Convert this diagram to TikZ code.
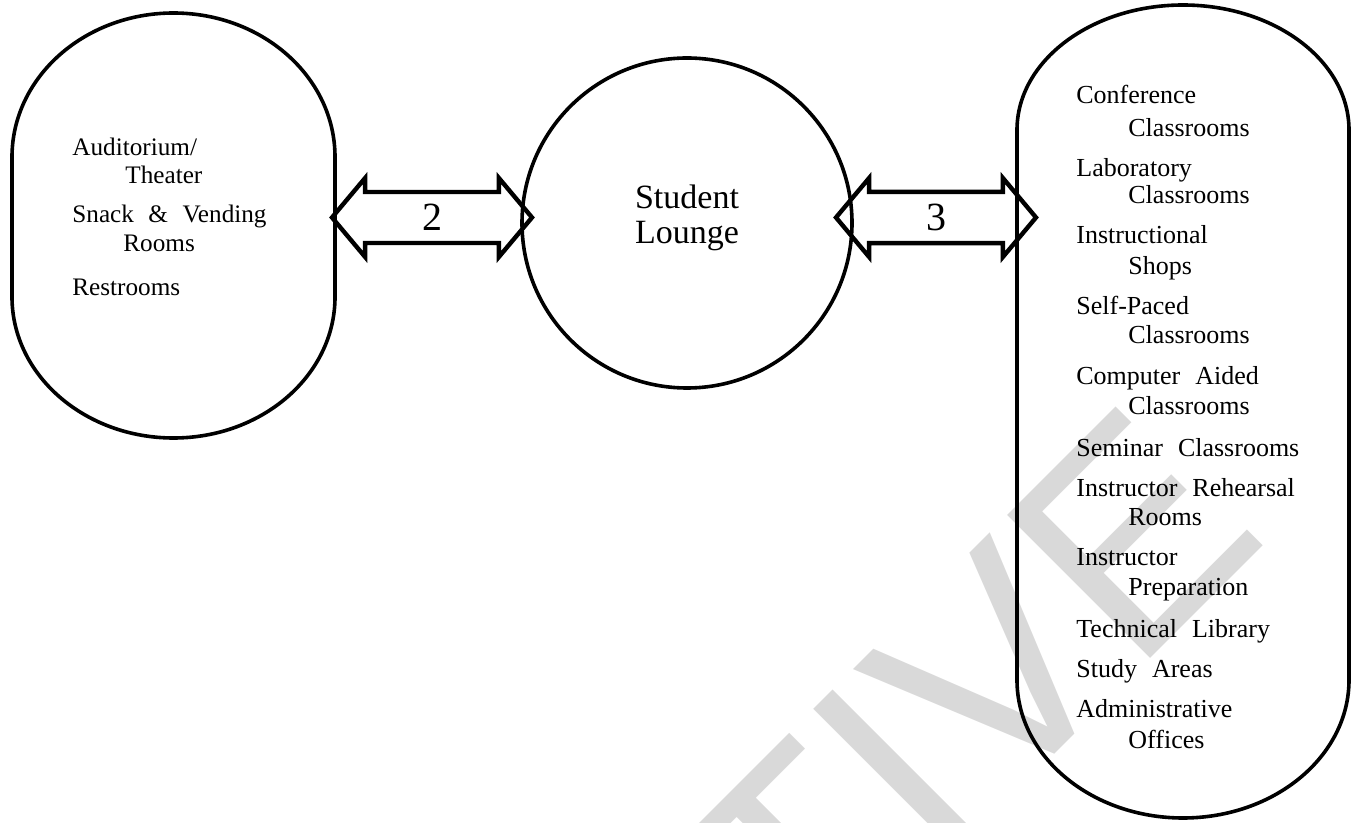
\documentclass[tikz,border=0pt]{standalone}
\usepackage{fontspec}
\setmainfont{Liberation Serif}[WordSpace=2.3]
\newfontfamily\stampfont{Liberation Sans}
\usetikzlibrary{shapes.arrows}

\begin{document}
\begin{tikzpicture}[x=0.5pt,y=0.5pt,
    wall/.style={line width=1.8pt},
    link/.style={draw,line width=2.2pt,shape=double arrow,
      double arrow tip angle=100,double arrow head extend=4.25pt,
      minimum height=100pt,minimum width=39.5pt,inner sep=0pt,
      font=\fontsize{20}{24}\selectfont},
    room/.style={anchor=base west,inner sep=0pt,font=\fontsize{13}{15}\selectfont}]
  \useasboundingbox (0,0) rectangle (1351,-823);
  \clip (0,0) rectangle (1351,-823);
  % stamp lies under the drawing
  \node[anchor=base west,inner sep=0pt,rotate=45,text=black!15,
    font=\stampfont\fontsize{147}{147}\selectfont] (stamp) at (810,-999) {TIVE};

  % left wing
  \draw[wall] (12,-157) -- (12,-297)
    arc[start angle=180,end angle=360,x radius=161.5,y radius=141] -- (335,-157)
    arc[start angle=0,end angle=180,x radius=161.5,y radius=144] -- cycle;
  \foreach \x/\y/\t [count=\i] in {72/156/{Auditorium/},125/184/Theater,
      72/223/{Snack \& Vending},123/252/Rooms,72/296/Restrooms}
    \node[room,font=\fontsize{12.6}{15}\selectfont] (w\i) at (\x,-\y) {\t};

  % lounge
  \node[wall,draw,circle,minimum size=165pt,inner sep=0pt] (lounge) at (687,-223) {};
  \node[align=center,font=\fontsize{17}{17.5}\selectfont,yshift=2.75pt] (lname) at (lounge) {Student\\Lounge};

  % right wing
  \draw[wall] (1017,-130) -- (1017,-680)
    arc[start angle=180,end angle=360,x radius=166,y radius=138] -- (1349,-130)
    arc[start angle=0,end angle=180,x radius=166,y radius=125] -- cycle;
  \foreach \x/\y/\t [count=\i] in {1076/104/Conference,1128/137/Classrooms,
      1076/177/Laboratory,1128/204/Classrooms,
      1076/244/Instructional,1128/275/Shops,
      1076/315/Self-Paced,1128/344/Classrooms,
      1076/385/Computer Aided,1128/415/Classrooms,
      1076/457/Seminar Classrooms,
      1076/497/Instructor Rehearsal,1128/526/Rooms,
      1076/566/Instructor,1128/596/Preparation,
      1076/638/Technical Library,
      1076/678/Study Areas,
      1076/718/Administrative,1128/748/Offices}
    \node[room] (e\i) at (\x,-\y) {\t};

  % links between the wings
  \node[link] (link2) at (432,-217.5) {2};
  \node[link] (link3) at (936,-217.5) {3};
\end{tikzpicture}
\end{document}
